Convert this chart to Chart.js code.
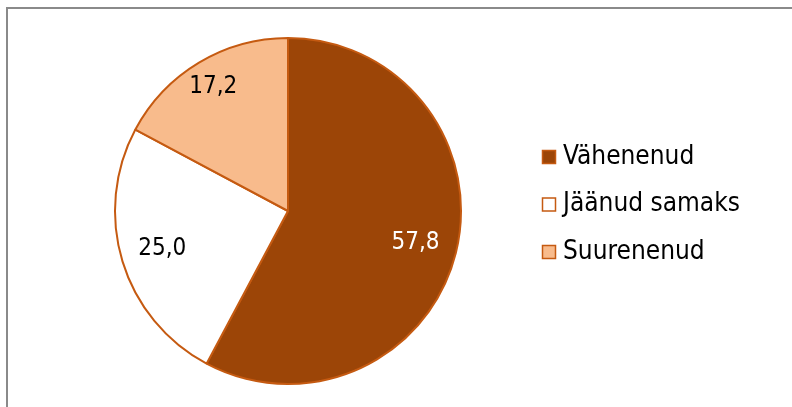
<!DOCTYPE html>
<html>
<head>
<meta charset="utf-8">
<script src="https://cdn.jsdelivr.net/npm/chart.js@4"></script>
<style>
    body { margin: 0; background: #fff; }
    .Frame { position: absolute; left: 6px; top: 7px; width: 800px; height: 420px;
             border-top: 2px solid #8a8a8a; border-left: 2px solid #8a8a8a; }
    canvas { position: absolute; left: 0; top: 0; }
</style>
</head>
<body>
<div class="Frame"></div>
<canvas id="PieChart" width="792" height="407"></canvas>
<script>
var categories = ['Vähenenud', 'Jäänud samaks', 'Suurenenud'];
var values = [57.8, 25.0, 17.2];
var colors = ['#9c4507', '#ffffff', '#f8bb8c'];
var labelColors = ['#ffffff', '#000000', '#000000'];
var labelRadius = [0.76, 0.76, 0.84];

var fontName = '"DejaVu Sans Condensed", "DejaVu Sans", sans-serif';

// value labels inside the slices
var sliceLabels = {
    id: 'sliceLabels',
    afterDatasetsDraw: function(chart){
        var ctx = chart.ctx;
        var meta = chart.getDatasetMeta(0);
        ctx.save();
        ctx.font = '24px ' + fontName;
        ctx.textAlign = 'center';
        ctx.textBaseline = 'middle';
        meta.data.forEach(function(arc, i){
            var mid = (arc.startAngle + arc.endAngle) / 2;
            var r = arc.outerRadius * labelRadius[i];
            ctx.fillStyle = labelColors[i];
            ctx.fillText(values[i].toFixed(1).replace('.', ','), arc.x + Math.cos(mid) * r, arc.y + Math.sin(mid) * r);
        });
        ctx.restore();
    }
};

// legend on the right side
var sideLegend = {
    id: 'sideLegend',
    afterDraw: function(chart){
        var ctx = chart.ctx;
        var items = chart.options.plugins.legend.labels.generateLabels(chart);
        ctx.save();
        ctx.font = '26px ' + fontName;
        ctx.textBaseline = 'middle';
        items.forEach(function(item, i){
            var y = 157 + i * 47.5;
            ctx.fillStyle = item.fillStyle;
            ctx.fillRect(542, y - 7, 14, 14);
            ctx.strokeStyle = '#c55a11';
            ctx.lineWidth = 1.5;
            ctx.strokeRect(542.5, y - 6.5, 13, 13);
            ctx.fillStyle = '#000000';
            ctx.fillText(item.text, 563, y);
        });
        ctx.restore();
    }
};

var ctx = document.getElementById('PieChart').getContext('2d');
var myChart = new Chart(ctx, {
    type: 'pie',
    data: {
        labels: categories,
        datasets: [{
            data: values,
            backgroundColor: colors,
            borderColor: '#c55a11',
            borderWidth: 2
        }]
    },
    options: {
        responsive: false,
        animation: false,
        devicePixelRatio: 1,
        layout: { padding: { left: 114, right: 330, top: 36, bottom: 21 } },
        plugins: {
            legend: { display: false },
            tooltip: { enabled: false }
        }
    },
    plugins: [sliceLabels, sideLegend]
});
</script>
</body>
</html>
